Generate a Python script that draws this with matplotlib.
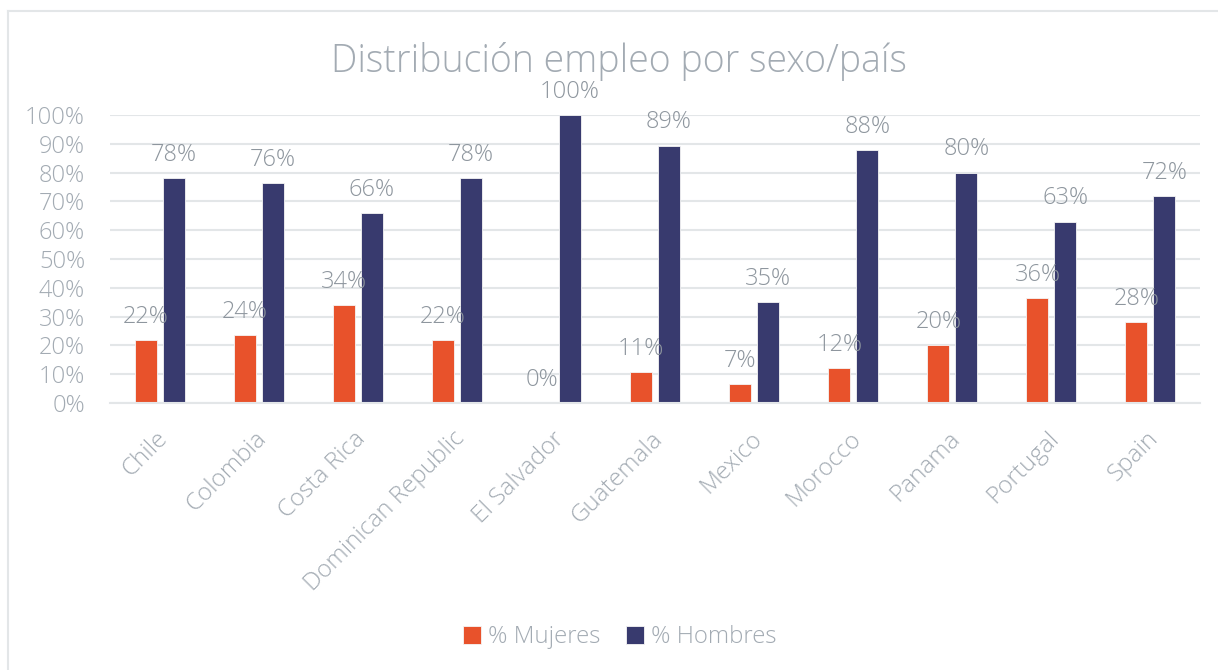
import numpy as np
import matplotlib
matplotlib.use("Agg")
import matplotlib.pyplot as plt
import matplotlib.transforms as mtransforms

plt.rcParams['font.family'] = ['Open Sans', 'DejaVu Sans']

countries = ["Chile", "Colombia", "Costa Rica", "Dominican Republic", "El Salvador",
             "Guatemala", "Mexico", "Morocco", "Panama", "Portugal", "Spain"]
mujeres = [21.8, 23.6, 34.1, 21.8, 0.0, 10.6, 6.6, 12.1, 20.0, 36.3, 28.0]
hombres = [78.2, 76.4, 65.9, 78.2, 100.0, 89.4, 35.0, 87.9, 80.0, 63.0, 72.0]
series_names = ["% Mujeres", "% Hombres"]
yticks = [0, 10, 20, 30, 40, 50, 60, 70, 80, 90, 100]

c_muj = "#E8522B"
c_hom = "#383A6E"
txt = "#A3ABB3"
lbl = "#8E969E"
grid = "#E3E6E8"

fig = plt.figure(figsize=(12.18, 6.70), dpi=100)
ax = fig.add_axes([110 / 1218, 1 - 403 / 670, 1090 / 1218, 288 / 670])

x = np.arange(len(countries))
w = 0.222
off = 0.141
b1 = ax.bar(x - off, mujeres, w, color=c_muj, edgecolor="#F5F5F5", linewidth=0.6,
            label=series_names[0], zorder=2)
b2 = ax.bar(x + off, hombres, w, color=c_hom, edgecolor="#F5F5F5", linewidth=0.6,
            label=series_names[1], zorder=2)

# value labels above the bars
for bars, vals in ((b1, mujeres), (b2, hombres)):
    for r, v in zip(bars, vals):
        ax.annotate(f"{v:.0f}%", (r.get_x() + r.get_width() / 2, v),
                    xytext=(0, 8), textcoords="offset points",
                    ha="center", va="bottom", fontsize=17, color=lbl,
                    fontweight="light", zorder=3)

ax.set_xlim(-0.5, len(countries) - 0.5)
ax.set_ylim(0, 100)
ax.set_yticks(yticks)
ax.set_yticklabels([f"{t}%" for t in yticks])
ax.yaxis.grid(True, color=grid, linewidth=1.5, zorder=0)
ax.set_axisbelow(True)
for s in ["top", "right", "left"]:
    ax.spines[s].set_visible(False)
ax.spines["bottom"].set_color(grid)
ax.spines["bottom"].set_linewidth(1.5)
ax.tick_params(axis="both", length=0, labelsize=17, labelcolor=txt)
ax.tick_params(axis="y", pad=18)
ax.set_xticks(x)
ax.set_xticklabels(countries, rotation=45, ha="right", va="top",
                   rotation_mode="anchor", fontweight="light", fontsize=17.5)
for t in ax.get_yticklabels():
    t.set_fontweight("light")
shift = mtransforms.ScaledTranslation(-4 / 100, -19 / 100, fig.dpi_scale_trans)
for t in ax.get_xticklabels():
    t.set_transform(t.get_transform() + shift)

fig.text(0.508, 0.908, "Distribución empleo por sexo/país", ha="center", va="center",
         fontsize=27, color=txt, fontweight="light")

leg = fig.legend(loc="center", bbox_to_anchor=(0.509, 0.049), ncol=2, frameon=False,
                 fontsize=17.3, handlelength=0.75, handleheight=0.75, handletextpad=0.3,
                 columnspacing=1.05)
for t in leg.get_texts():
    t.set_color(txt)
    t.set_fontweight("light")

# outer frame lines (left and top)
fig.add_artist(plt.Line2D([8 / 1218, 8 / 1218], [0, 1 - 11 / 670], color=grid, linewidth=1.5,
                          transform=fig.transFigure))
fig.add_artist(plt.Line2D([8 / 1218, 1], [1 - 11 / 670, 1 - 11 / 670], color=grid,
                          linewidth=1.5, transform=fig.transFigure))

fig.savefig("out.png", dpi=100)
